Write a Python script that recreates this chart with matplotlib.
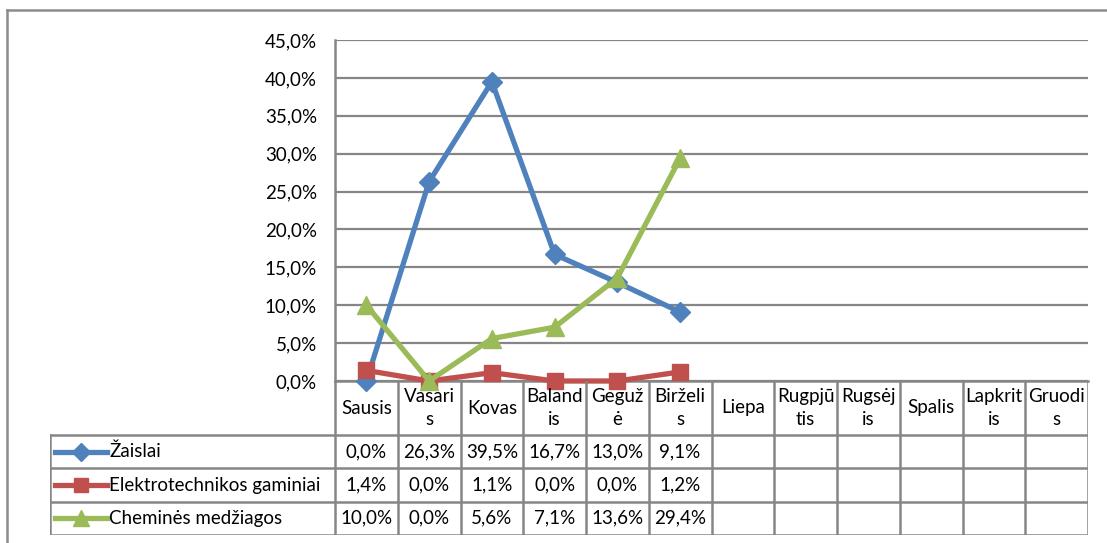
import matplotlib
matplotlib.use("Agg")
import matplotlib.pyplot as plt
from matplotlib.lines import Line2D

plt.rcParams['font.family'] = ['Lato', 'DejaVu Sans']

# duomenys
months = ["Sausis", "Vasaris", "Kovas", "Balandis", "Gegužė", "Birželis",
          "Liepa", "Rugpjūtis", "Rugsėjis", "Spalis", "Lapkritis", "Gruodis"]
month_labels = ["Sausis", "Vasari\ns", "Kovas", "Baland\nis", "Geguž\nė", "Birželi\ns",
                "Liepa", "Rugpjū\ntis", "Rugsėj\nis", "Spalis", "Lapkrit\nis", "Gruodi\ns"]
series_names = ["Žaislai", "Elektrotechnikos gaminiai", "Cheminės medžiagos"]
zaislai = [0.0, 26.3, 39.5, 16.7, 13.0, 9.1]
elektro = [1.4, 0.0, 1.1, 0.0, 0.0, 1.2]
chemines = [10.0, 0.0, 5.6, 7.1, 13.6, 29.4]
yticks = [0, 5, 10, 15, 20, 25, 30, 35, 40, 45]

colors = ["#4F81BD", "#C0504D", "#9BBB59"]
markers = ["D", "s", "^"]
msizes = [10.5, 12, 13]
grid_c = "#868686"

W, H = 1107, 543
fig = plt.figure(figsize=(W / 100, H / 100), dpi=100)

def fx(px):
    return px / W

def fy(py):
    return 1 - py / H

def pct(v):
    return ("%.1f%%" % v).replace(".", ",")

fs = 13.5

# plot area (pikseliais)
L, R, T, B = 335, 1088, 40, 381
ax = fig.add_axes([fx(L), fy(B), fx(R) - fx(L), fy(T) - fy(B)])
n = len(months)
ax.set_xlim(-0.5, n - 0.5)
ax.set_ylim(0, 45)
ax.set_yticks(yticks)
ax.yaxis.set_major_formatter(plt.FuncFormatter(lambda v, p: pct(v)))
ax.set_xticks([])
ax.tick_params(axis="y", length=0, pad=13, labelsize=fs, colors="#000000")
ax.grid(axis="y", color=grid_c, lw=1.6)
ax.set_axisbelow(True)
for s in ["top", "right"]:
    ax.spines[s].set_visible(False)
for s in ["left", "bottom"]:
    ax.spines[s].set_color(grid_c)
    ax.spines[s].set_linewidth(1.8)

all_series = [zaislai, elektro, chemines]
for i, vals in enumerate(all_series):
    ax.plot(range(len(vals)), vals, color=colors[i], lw=3.8, marker=markers[i],
            ms=msizes[i], clip_on=False, zorder=3 + i)

# lentele po grafiku
TB = 535
tab = fig.add_axes([fx(50), fy(TB), fx(R) - fx(50), fy(B) - fy(TB)])
unit = (R - L) / n
x_left = -0.5 - (L - 50) / unit
cat_h = (435 - B) / ((TB - 435) / 3)
tab.set_xlim(x_left, n - 0.5)
tab.set_ylim(cat_h + 3, 0)
tab.axis("off")

lkw = dict(color=grid_c, lw=1.8, solid_capstyle="projecting")
for k in range(n + 1):
    tab.plot([k - 0.5, k - 0.5], [0, cat_h + 3], **lkw)
tab.plot([x_left, x_left], [cat_h, cat_h + 3], **lkw)
for r in range(4):
    tab.plot([x_left, n - 0.5], [cat_h + r, cat_h + r], **lkw)

for k, lab in enumerate(month_labels):
    tab.text(k, cat_h / 2, lab, ha="center", va="center", fontsize=fs, linespacing=1.4)

for i, vals in enumerate(all_series):
    yc = cat_h + i + 0.5
    for k, v in enumerate(vals):
        tab.text(k, yc, pct(v), ha="center", va="center", fontsize=fs)
    x0 = x_left + 5 / unit
    x1 = x_left + 57 / unit
    tab.plot([x0, x1], [yc, yc], color=colors[i], lw=3.8)
    tab.plot([(x0 + x1) / 2], [yc], color=colors[i], marker=markers[i], ms=msizes[i] - 1.5)
    tab.text(x_left + 59 / unit, yc, series_names[i], ha="left", va="center", fontsize=fs)

# remelis
fig.add_artist(Line2D([fx(7), 1], [fy(10), fy(10)], color="#8C8C8C", lw=1.8))
fig.add_artist(Line2D([fx(7), fx(7)], [fy(10), 0], color="#8C8C8C", lw=1.8))

fig.savefig("out.png", dpi=100)
